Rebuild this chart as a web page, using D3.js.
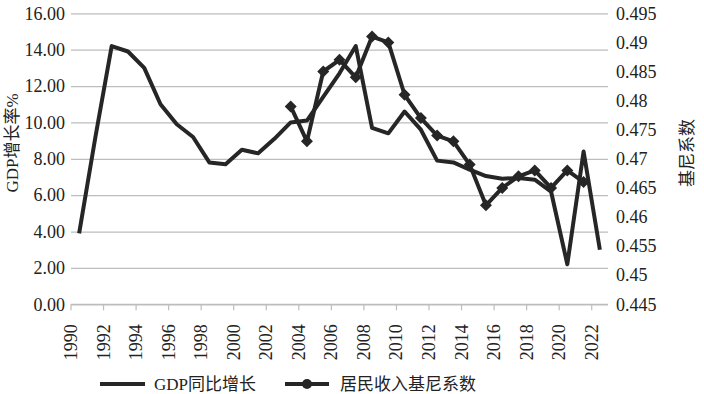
<!DOCTYPE html>
<html>
<head>
<meta charset="utf-8">
<script src="https://cdn.jsdelivr.net/npm/d3@7"></script>
<style>
  html, body { margin: 0; padding: 0; background: #fff; }
  text { font-family: "Liberation Serif", "Noto Sans CJK SC", serif; fill: #222; }
</style>
</head>
<body>
<div id="chart"></div>
<script>
// GDP growth vs Gini coefficient

////////////////////////////////
// Data
var years = d3.range(1990, 2023);

var gdpGrowth = [
  3.9, 9.2, 14.2, 13.9, 13.0, 11.0, 9.9, 9.2, 7.8, 7.7, 8.5, 8.3, 9.1, 10.0,
  10.1, 11.4, 12.7, 14.2, 9.7, 9.4, 10.6, 9.6, 7.9, 7.8, 7.4, 7.05, 6.9, 6.95,
  6.85, 6.2, 2.2, 8.4, 3.0,
];

var giniYears = d3.range(2003, 2022);
var gini = [
  0.479, 0.473, 0.485, 0.487, 0.484, 0.491, 0.49, 0.481, 0.477, 0.474, 0.473,
  0.469, 0.462, 0.465, 0.467, 0.468, 0.465, 0.468, 0.466,
];

var leftTicks = [0, 2, 4, 6, 8, 10, 12, 14, 16];
var rightTicks = [0.445, 0.45, 0.455, 0.46, 0.465, 0.47, 0.475, 0.48, 0.485, 0.49, 0.495];
var labelYears = years.filter(function (y) { return y % 2 === 0; });

var legendItems = ["GDP同比增长", "居民收入基尼系数"];

////////////////////////////////
// Sizes
var width = 704;
var height = 394;
var plot = { left: 71, right: 608, top: 13.3, bottom: 304.3 };
var lineColor = "#262626";
var gridColor = "#bdbdbd";

var svg = d3
  .select("#chart")
  .append("svg")
  .attr("width", width)
  .attr("height", height);

// Scales
var x = d3.scaleBand().domain(years).range([plot.left, plot.right]);
var yLeft = d3.scaleLinear().domain([0, 16]).range([plot.bottom, plot.top]);
var yRight = d3.scaleLinear().domain([0.445, 0.495]).range([plot.bottom, plot.top]);

function cx(year) {
  return x(year) + x.bandwidth() / 2;
}

////////////////////////////////
// Gridlines + left axis
var leftAxis = d3
  .axisLeft(yLeft)
  .tickValues(leftTicks)
  .tickSize(-(plot.right - plot.left))
  .tickPadding(6)
  .tickFormat(d3.format(".2f"));

var gLeft = svg
  .append("g")
  .attr("transform", "translate(" + plot.left + ",0)")
  .call(leftAxis);
gLeft.select(".domain").remove();
gLeft.selectAll("line").attr("stroke", gridColor).attr("stroke-width", 1.2);
gLeft.selectAll("text").style("font-size", "18px").attr("fill", "#222");

// Right axis (labels only)
var rightAxis = d3
  .axisRight(yRight)
  .tickValues(rightTicks)
  .tickSize(0)
  .tickPadding(8)
  .tickFormat(function (d) { return +d.toFixed(3) + ""; });

var gRight = svg
  .append("g")
  .attr("transform", "translate(" + plot.right + ",0)")
  .call(rightAxis);
gRight.select(".domain").remove();
gRight.selectAll("text").style("font-size", "18px").attr("fill", "#222");

// X axis: ticks at category edges every 2 years
var gx = svg.append("g").attr("transform", "translate(0," + plot.bottom + ")");
gx.append("line")
  .attr("x1", plot.left)
  .attr("x2", plot.right)
  .attr("stroke", gridColor)
  .attr("stroke-width", 1.2);
gx.selectAll(".xtick")
  .data(labelYears)
  .enter()
  .append("line")
  .attr("x1", function (d) { return x(d); })
  .attr("x2", function (d) { return x(d); })
  .attr("y1", 0)
  .attr("y2", 6)
  .attr("stroke", gridColor)
  .attr("stroke-width", 1.2);
gx.selectAll(".xlabel")
  .data(labelYears)
  .enter()
  .append("text")
  .attr("transform", function (d) {
    return "translate(" + (x(d) + 6) + ",20) rotate(-90)";
  })
  .style("text-anchor", "end")
  .style("font-size", "18px")
  .text(function (d) { return d; });

////////////////////////////////
// Axis titles
svg
  .append("text")
  .attr("transform", "translate(18,143) rotate(-90)")
  .style("text-anchor", "middle")
  .style("font-size", "17px")
  .text("GDP增长率%");

svg
  .append("text")
  .attr("transform", "translate(693,153) rotate(-90)")
  .style("text-anchor", "middle")
  .style("font-size", "17px")
  .text("基尼系数");

////////////////////////////////
// Lines
var gdpLine = d3
  .line()
  .x(function (d, i) { return cx(years[i]); })
  .y(function (d) { return yLeft(d); });

svg
  .append("path")
  .datum(gdpGrowth)
  .attr("fill", "none")
  .attr("stroke", lineColor)
  .attr("stroke-width", 4)
  .attr("stroke-linejoin", "round")
  .attr("d", gdpLine);

var giniLine = d3
  .line()
  .x(function (d, i) { return cx(giniYears[i]); })
  .y(function (d) { return yRight(d); });

svg
  .append("path")
  .datum(gini)
  .attr("fill", "none")
  .attr("stroke", lineColor)
  .attr("stroke-width", 4)
  .attr("stroke-linejoin", "round")
  .attr("d", giniLine);

svg
  .selectAll(".marker")
  .data(gini)
  .enter()
  .append("path")
  .attr("d", d3.symbol().type(d3.symbolSquare).size(72))
  .attr("transform", function (d, i) {
    return "translate(" + cx(giniYears[i]) + "," + yRight(d) + ") rotate(45)";
  })
  .attr("fill", lineColor);

////////////////////////////////
// Legend
var legendY = 384;
var legend = svg.append("g");

legend
  .append("line")
  .attr("x1", 100)
  .attr("x2", 145)
  .attr("y1", legendY)
  .attr("y2", legendY)
  .attr("stroke", lineColor)
  .attr("stroke-width", 4);
legend
  .append("text")
  .attr("x", 154)
  .attr("y", legendY + 6)
  .style("font-size", "17px")
  .text(legendItems[0]);

legend
  .append("line")
  .attr("x1", 285)
  .attr("x2", 329)
  .attr("y1", legendY)
  .attr("y2", legendY)
  .attr("stroke", lineColor)
  .attr("stroke-width", 4);
legend
  .append("circle")
  .attr("cx", 307)
  .attr("cy", legendY)
  .attr("r", 5)
  .attr("fill", lineColor);
legend
  .append("text")
  .attr("x", 340)
  .attr("y", legendY + 6)
  .style("font-size", "17px")
  .text(legendItems[1]);
</script>
</body>
</html>
